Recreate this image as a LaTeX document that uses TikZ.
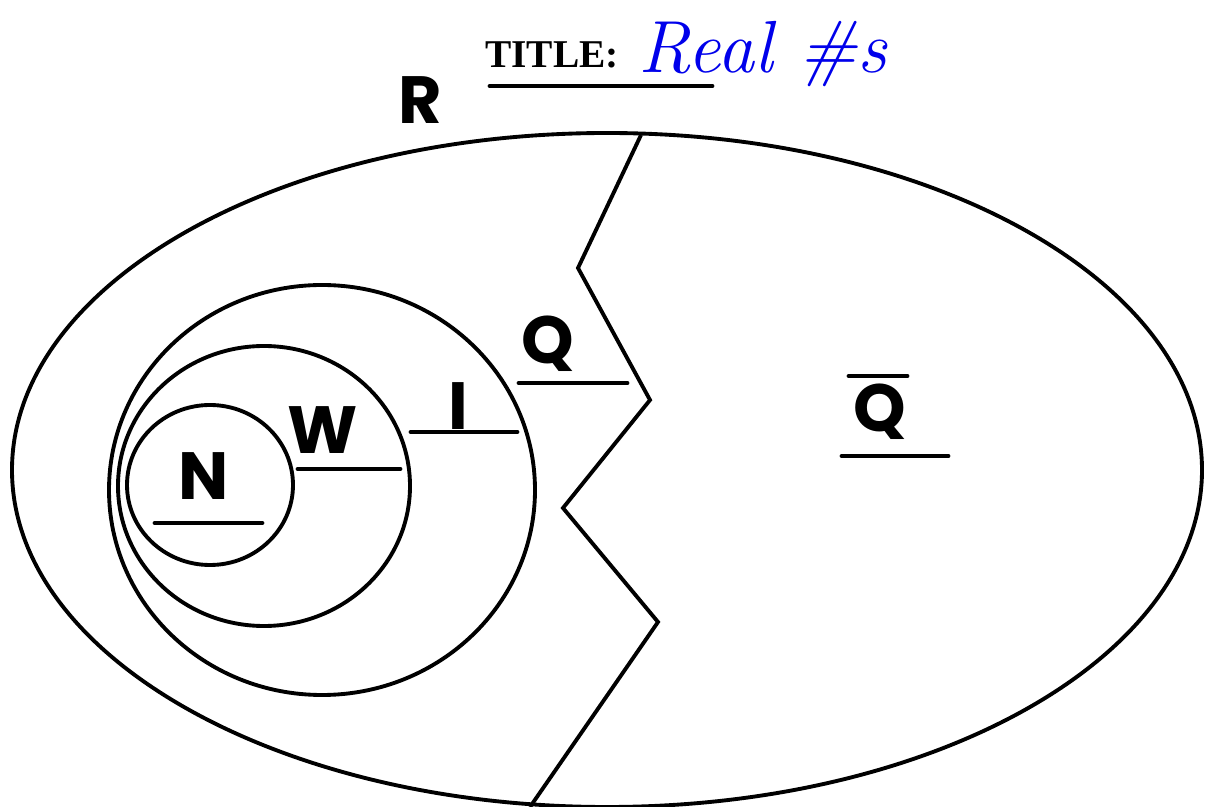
\documentclass[tikz,border=0pt]{standalone}
\usepackage{fontspec}
\usetikzlibrary{positioning}
\newfontfamily\labelfont{Poppins}
\newfontfamily\titlefont{Liberation Serif}
\definecolor{ink}{RGB}{0,0,0}
\definecolor{pen}{RGB}{0,0,235}
\tikzset{
  setline/.style={draw=ink, line width=1.1pt},
  setname/.style={font=\labelfont\bfseries\fontsize{19}{19}\selectfont, inner sep=0pt},
  blank/.style={line width=1.4pt, line cap=round},
}

\begin{document}
\begin{tikzpicture}[x=0.01cm, y=-0.01cm]
\useasboundingbox (0,0) rectangle (1206,807);
% the sets
\draw[setline] (607,470) ellipse (595 and 337);
\draw[setline] (322,490) ellipse (213 and 205);
\draw[setline] (264,486) ellipse (146 and 140);
\draw[setline] (210,485) ellipse (83 and 80);
% rational / irrational split
\draw[setline, line join=miter] (641,135) -- (578,268) -- (650,400) -- (563,508) -- (658,622) -- (530,807);
% labels
\node[setname] (R) at (420,100) {R};
\node[setname] (N) at (204,476) {N};
\node[setname] (W) at (323,430) {W};
\node[setname] (I) at (458,406) {I};
\node[setname] (Q) at (548,344) {Q};
\node[setname] (Qbar) at (880,412) {Q};
\draw[blank] (849,376) -- (907,376);
% blanks
\draw[blank] (155,523) -- (262,523);
\draw[blank] (298,469) -- (400,469);
\draw[blank] (411,432) -- (517,432);
\draw[blank] (519,383) -- (627,383);
\draw[blank] (842,456) -- (948,456);
% title
\node[font=\titlefont\bfseries\fontsize{11.2}{11.2}\selectfont, inner sep=0pt] (title) at (552,55) {TITLE:};
\draw[blank] (490,86) -- (712,86);
\node[font=\itshape\fontsize{21}{21}\selectfont, text=pen, inner sep=0pt, anchor=west] (name) at (638,54) {Real \#s};
\end{tikzpicture}
\end{document}
